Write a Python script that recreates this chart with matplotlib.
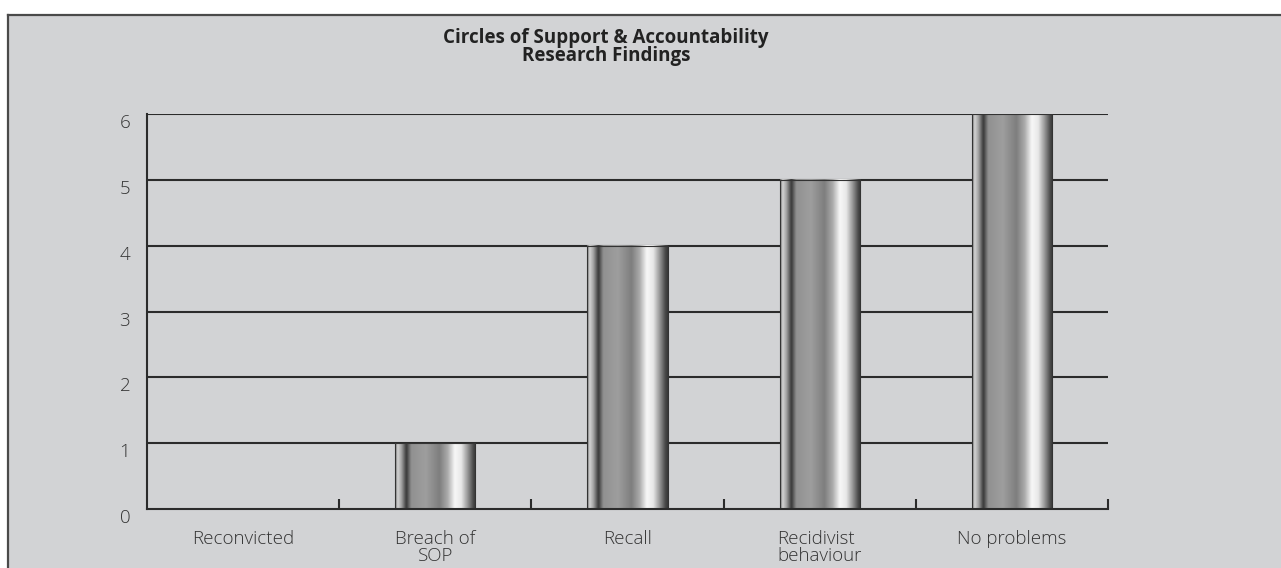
import numpy as np
import matplotlib.pyplot as plt
import matplotlib.transforms as mtransforms
from matplotlib.patches import Rectangle
from matplotlib.colors import LinearSegmentedColormap

categories = ['Reconvicted', 'Breach of\nSOP', 'Recall', 'Recidivist\nbehaviour', 'No problems']
values = [0, 1, 4, 5, 6]
yticks = [0, 1, 2, 3, 4, 5, 6]
title = 'Circles of Support & Accountability\nResearch Findings'

plt.rcParams['font.family'] = ['Open Sans', 'DejaVu Sans']

bg = '#d2d3d5'
ink = '#2b2b2b'

fig = plt.figure(figsize=(12.81, 5.68), dpi=100)
fig.patch.set_facecolor('white')

# grey panel with left and top border only
W, H = 1281, 568
fig.add_artist(Rectangle((8 / W, 0), 1, 1 - 15 / H, transform=fig.transFigure,
                         facecolor=bg, edgecolor='none', zorder=0))
fig.add_artist(plt.Line2D([8 / W, 8 / W], [0, 1 - 15 / H], transform=fig.transFigure,
                          color='#4a4a4a', lw=1.6, zorder=1))
fig.add_artist(plt.Line2D([8 / W, 1], [1 - 15 / H, 1 - 15 / H], transform=fig.transFigure,
                          color='#4a4a4a', lw=1.6, zorder=1))

ax = fig.add_axes([147 / W, 1 - 509 / H, (1108 - 147) / W, (509 - 114) / H])
ax.set_facecolor('none')

x = np.arange(len(categories))

for v in yticks[1:]:
    ax.axhline(v, color=ink, lw=1.5, zorder=1)

# cylinder-like shading across each bar
stops = [(0.0, 95), (0.03, 215), (0.08, 160), (0.14, 55), (0.2, 145), (0.38, 158),
         (0.55, 126), (0.65, 170), (0.74, 248), (0.82, 232), (0.9, 150), (0.97, 72), (1.0, 55)]
cmap = LinearSegmentedColormap.from_list(
    'cyl', [(p, (g / 255, g / 255, g / 255)) for p, g in stops])
grad = np.linspace(0, 1, 256).reshape(1, -1)

bars = ax.bar(x, values, width=0.417, color='none', edgecolor='#333333', lw=0.8, zorder=3)
for b in bars:
    if b.get_height() <= 0:
        continue
    x0, y0 = b.get_x(), b.get_y()
    ax.imshow(grad, cmap=cmap, aspect='auto', zorder=2, interpolation='bicubic',
              extent=(x0, x0 + b.get_width(), y0, y0 + b.get_height()))
ax.set_xlim(-0.5, len(categories) - 0.5)
ax.set_ylim(0, 6)

for s in ['top', 'right']:
    ax.spines[s].set_visible(False)
for s in ['left', 'bottom']:
    ax.spines[s].set_color(ink)
    ax.spines[s].set_linewidth(1.5)
    ax.spines[s].set_zorder(4)

ax.set_yticks(yticks)
ax.set_yticklabels([str(v) for v in yticks])
ax.tick_params(axis='y', length=0, pad=12, labelsize=13.5, labelcolor='#333333')

ax.set_xticks(x)
ax.set_xticklabels(categories, linespacing=0.95)
ax.tick_params(axis='x', which='major', length=0, pad=15, labelsize=13.5, labelcolor='#333333')
ax.set_xticks(list(x + 0.5), minor=True)
ax.tick_params(axis='x', which='minor', direction='in', length=7, width=1.5, color=ink)
for lab in ax.get_xticklabels():
    lab.set_fontweight('light')
ax.get_xticklabels()[3].set_multialignment('left')

# y labels sit a little below their gridlines
shift = mtransforms.ScaledTranslation(0, -7 / 100, fig.dpi_scale_trans)
for lab in ax.get_yticklabels():
    lab.set_fontweight('light')
    lab.set_transform(lab.get_transform() + shift)

fig.text(606 / W, 1 - 47 / H, title, ha='center', va='center', fontsize=13.5,
         fontweight='bold', color='#222222', linespacing=0.85)

fig.savefig('out.png', dpi=100, facecolor='white')
